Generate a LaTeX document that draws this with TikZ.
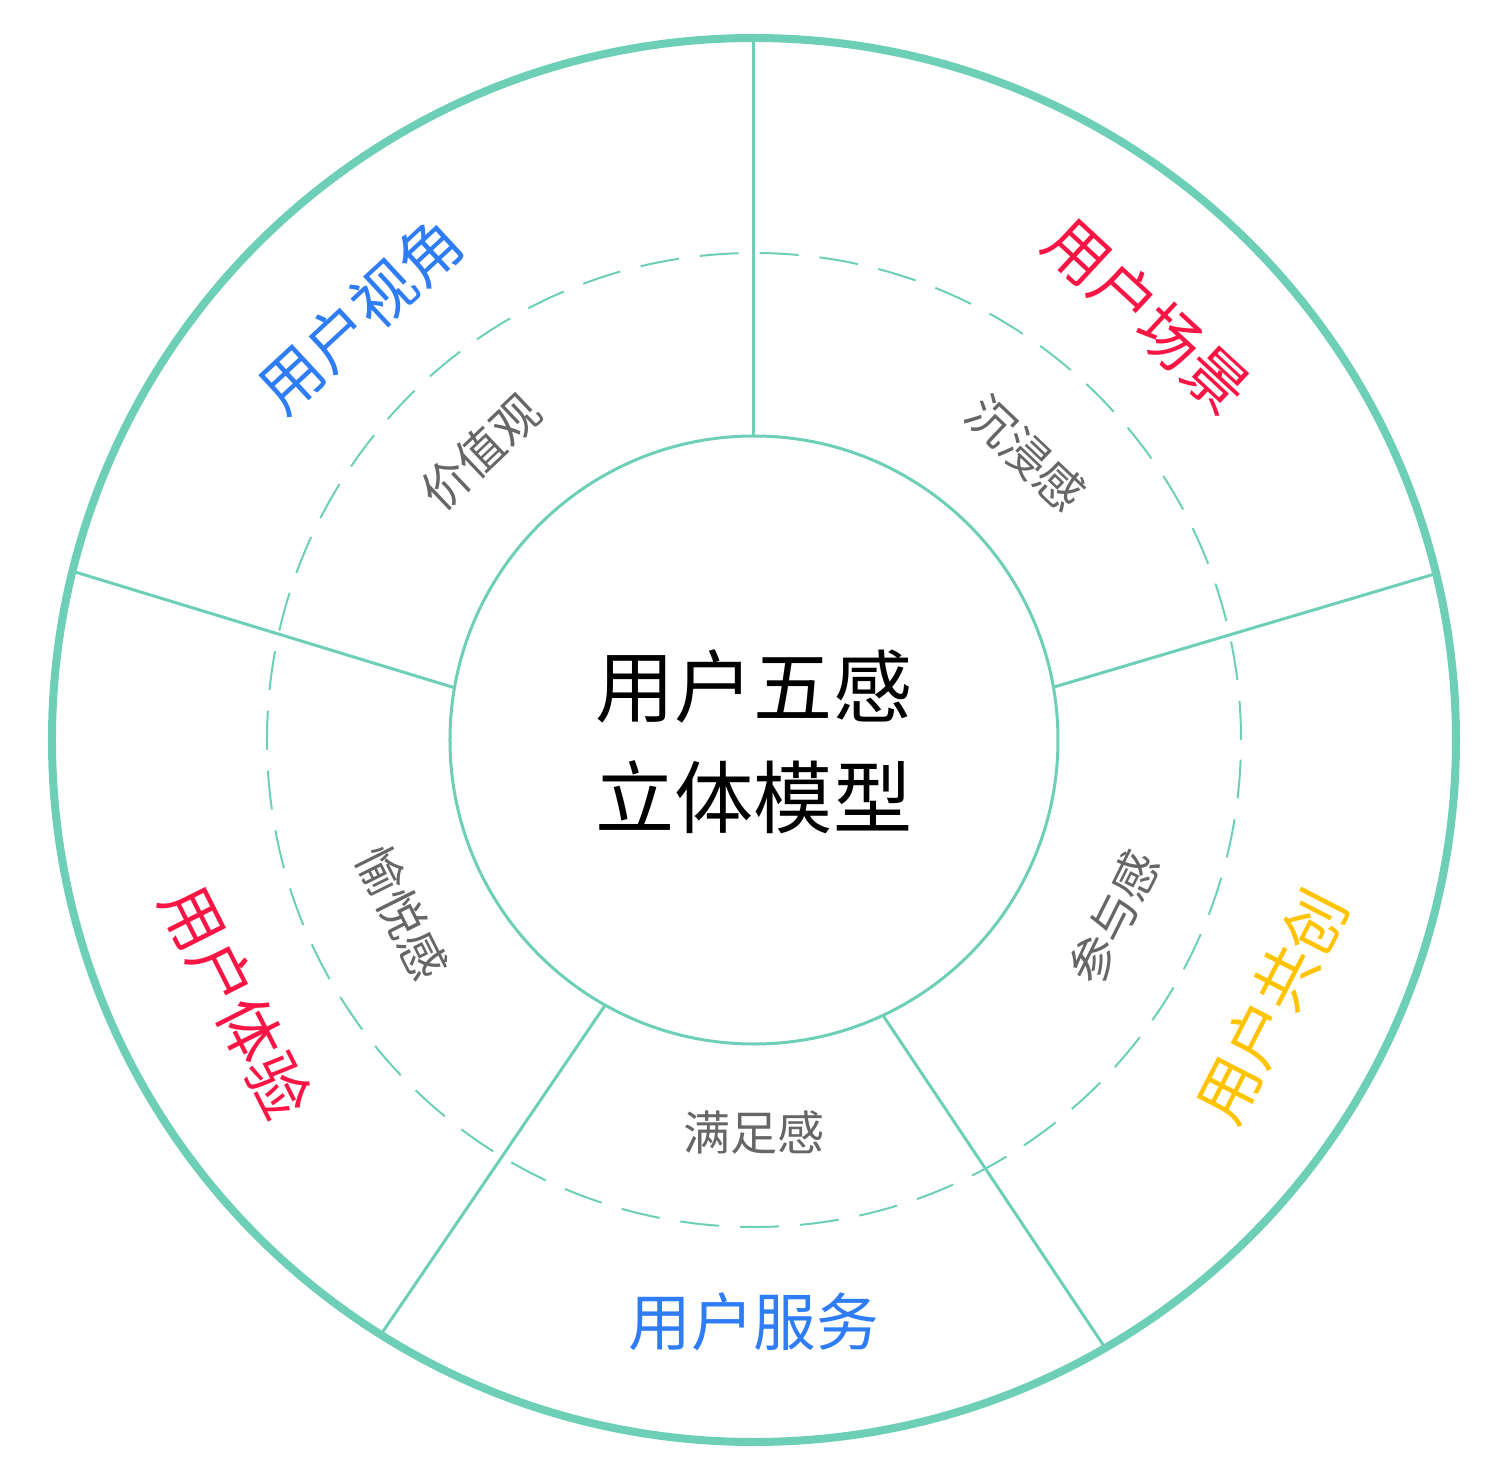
\documentclass[tikz,border=0pt]{standalone}
\usepackage{fontspec}
\setmainfont{Noto Sans CJK SC}
\definecolor{ringgreen}{RGB}{109,207,182}
\definecolor{senseblue}{RGB}{46,124,246}
\definecolor{sensered}{RGB}{250,21,69}
\definecolor{senseyellow}{RGB}{255,195,0}
\definecolor{sensegray}{RGB}{102,102,102}
\begin{document}
\begin{tikzpicture}[x=0.01cm,y=0.01cm,
  ring/.style={draw=ringgreen},
  outerlabel/.style={inner sep=0pt,font=\fontsize{17.8}{20}\selectfont},
  innerlabel/.style={inner sep=0pt,text=sensegray,font=\fontsize{13.4}{16}\selectfont}]
\useasboundingbox (-754,-732) rectangle (754,740);
\draw[ring,line width=0.08cm] (0,0) circle (702);
\draw[ring,line width=0.02cm,dash pattern=on 0.39cm off 0.21cm] (0,0) circle (487);
\draw[ring,line width=0.03cm] (0,0) circle (304);
% dividing lines, inner end / outer end
\foreach \a/\b [count=\i] in {90/90,10/13.7,-64.9/-60,-119.3/-122.1,170.1/166.1}{
  \coordinate (s\i) at (\a:304);
  \coordinate (e\i) at (\b:699);
  \draw[ring,line width=0.03cm] (s\i)--(e\i);
}
\node[align=center,inner sep=0pt,font=\fontsize{22.5}{31.6}\selectfont] (title) at (0,-1.5) {用户五感\\立体模型};
% outer ring
\node[outerlabel,text=senseblue,rotate=42.8] (view) at (132.8:579) {用户视角};
\node[outerlabel,text=sensered,rotate=-42.8] (scene) at (47.2:579) {用户场景};
\node[outerlabel,text=senseyellow,rotate=62.8] (cocreate) at (-27.2:582) {用户共创};
\node[outerlabel,text=senseblue] (service) at (-90:582) {用户服务};
\node[outerlabel,text=sensered,rotate=-63.2] (experience) at (206.8:580) {用户体验};
% inner ring
\node[innerlabel,rotate=43.5] (value) at (133.5:397) {价值观};
\node[innerlabel,rotate=-43.5] (immerse) at (46.5:395) {沉浸感};
\node[innerlabel,rotate=63.5] (join) at (-26.3:401) {参与感};
\node[innerlabel] (satisfy) at (-90:393) {满足感};
\node[innerlabel,rotate=-63.5] (joy) at (206.2:392) {愉悦感};
\end{tikzpicture}
\end{document}
